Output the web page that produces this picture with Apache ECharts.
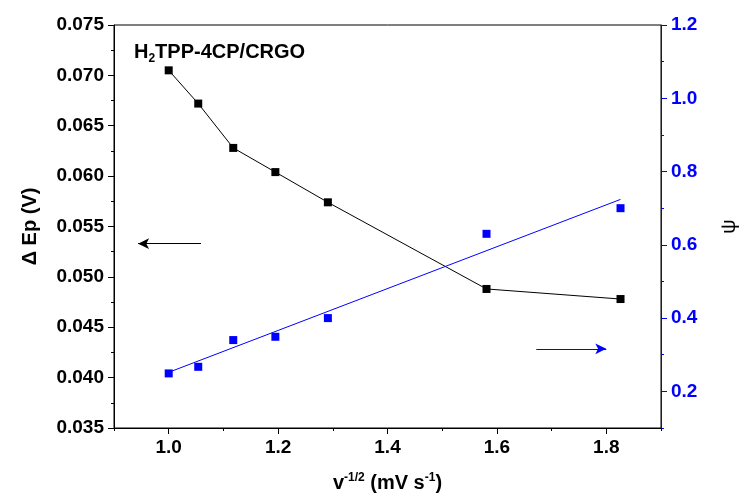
<!DOCTYPE html>
<html>
<head>
<meta charset="utf-8">
<script src="https://cdn.jsdelivr.net/npm/echarts@6/dist/echarts.min.js"></script>
<style>html,body{margin:0;padding:0;background:#fff}#c{width:739px;height:497px}</style>
</head>
<body>
<div id="c"></div>
<script>
// ---- data ----
const xValues = [1.0, 1.054, 1.118, 1.195, 1.291, 1.581, 1.826];
const deltaEp = [0.0705, 0.0672, 0.0628, 0.0604, 0.0574, 0.0488, 0.0478];
const psi = [0.249, 0.267, 0.340, 0.349, 0.400, 0.630, 0.700];
const psiFit = [[1.0, 0.252], [1.826, 0.724]];
const xTickMajor = [1.0, 1.2, 1.4, 1.6, 1.8];
const xTickMinor = [0.9, 1.1, 1.3, 1.5, 1.7, 1.9];
const rightTickMajor = [0.2, 0.4, 0.6, 0.8, 1.0, 1.2];
const rightTickMinor = [0.1, 0.3, 0.5, 0.7, 0.9, 1.1];
const leftArrow = [[1.059, 0.0533], [0.944, 0.0533]];
const rightArrow = [[1.672, 0.316], [1.800, 0.316]];

const FONT = '"Liberation Sans", Arial, sans-serif';
const BLUE = '#0000ff';
const chart = echarts.init(document.getElementById('c'));
const xBase = {type: 'value', min: 0.9, max: 1.9, splitLine: {show: false}};
chart.setOption({
  animation: false,
  title: {
    text: 'H{sub|2}TPP-4CP/CRGO',
    left: 129, top: 35,
    textStyle: {
      fontFamily: FONT, fontSize: 20, fontWeight: 'bold', color: '#000',
      rich: {sub: {fontFamily: FONT, fontSize: 12, fontWeight: 'bold', color: '#000', verticalAlign: 'bottom', padding: [13, 0, 0, 0]}}
    }
  },
  grid: {left: 114, right: 78, top: 25, bottom: 69, show: true, borderColor: '#000', borderWidth: 1,
    containLabel: false, outerBoundsMode: 'none'},
  xAxis: [
    Object.assign({}, xBase, {
      position: 'bottom',
      name: 'v{sup|-1/2} (mV s{sup|-1})',
      nameLocation: 'middle', nameGap: 44,
      nameTextStyle: {fontFamily: FONT, fontSize: 20, fontWeight: 'bold', color: '#000',
        rich: {sup: {fontFamily: FONT, fontSize: 12, fontWeight: 'bold', color: '#000', verticalAlign: 'top', padding: [0, 0, 11, 0]}}},
      axisLine: {show: true, lineStyle: {color: '#000', width: 1}},
      axisTick: {show: true, customValues: xTickMajor, length: 6, lineStyle: {color: '#000'}},
      axisLabel: {customValues: xTickMajor, margin: 10, fontFamily: FONT, fontSize: 19, fontWeight: 'bold', color: '#000',
        formatter: v => v.toFixed(1)}
    }),
    Object.assign({}, xBase, {
      position: 'bottom',
      axisLine: {show: false},
      axisTick: {show: true, customValues: xTickMinor, length: 3, lineStyle: {color: '#000'}},
      axisLabel: {show: false}
    })
  ],
  yAxis: [
    {
      type: 'value', position: 'left', min: 0.035, max: 0.075, interval: 0.005,
      name: 'Δ Ep (V)', nameLocation: 'middle', nameGap: 74,
      nameTextStyle: {fontFamily: FONT, fontSize: 20, fontWeight: 'bold', color: '#000'},
      splitLine: {show: false},
      axisLine: {show: true, lineStyle: {color: '#000', width: 1}},
      axisTick: {show: true, length: 6, lineStyle: {color: '#000'}},
      minorTick: {show: true, splitNumber: 2, length: 3, lineStyle: {color: '#000'}},
      axisLabel: {margin: 10, fontFamily: FONT, fontSize: 19, fontWeight: 'bold', color: '#000',
        formatter: v => v.toFixed(3)}
    },
    {
      type: 'value', position: 'right', min: 0.1, max: 1.2,
      name: 'ψ', nameLocation: 'middle', nameGap: 58, nameRotate: 90,
      nameTextStyle: {fontFamily: FONT, fontSize: 20, color: '#000'},
      splitLine: {show: false},
      axisLine: {show: true, lineStyle: {color: BLUE, width: 1}},
      axisTick: {show: true, customValues: rightTickMajor, length: 6, lineStyle: {color: BLUE}},
      axisLabel: {customValues: rightTickMajor, margin: 10, fontFamily: FONT, fontSize: 19, fontWeight: 'bold', color: BLUE,
        formatter: v => v.toFixed(1)}
    },
    {
      type: 'value', position: 'right', min: 0.1, max: 1.2,
      splitLine: {show: false},
      axisLine: {show: false},
      axisTick: {show: true, customValues: rightTickMinor, length: 3, lineStyle: {color: BLUE}},
      axisLabel: {show: false}
    }
  ],
  series: [
    {
      type: 'line', xAxisIndex: 0, yAxisIndex: 0,
      data: xValues.map((x, i) => [x, deltaEp[i]]),
      symbol: 'rect', symbolSize: 8,
      itemStyle: {color: '#000', opacity: 1},
      lineStyle: {color: '#000', width: 1},
      markLine: {
        silent: true, symbol: ['none', 'arrow'], symbolSize: [8, 11],
        label: {show: false},
        lineStyle: {color: '#000', width: 1, type: 'solid'},
        data: [[{coord: leftArrow[0]}, {coord: leftArrow[1]}]]
      }
    },
    {
      type: 'scatter', xAxisIndex: 0, yAxisIndex: 1,
      data: xValues.map((x, i) => [x, psi[i]]),
      symbol: 'rect', symbolSize: 8,
      itemStyle: {color: BLUE, opacity: 1}
    },
    {
      type: 'line', xAxisIndex: 0, yAxisIndex: 1,
      data: psiFit, symbol: 'none',
      lineStyle: {color: BLUE, width: 1},
      markLine: {
        silent: true, symbol: ['none', 'arrow'], symbolSize: [8, 11],
        label: {show: false},
        lineStyle: {color: BLUE, width: 1, type: 'solid'},
        data: [[{coord: rightArrow[0]}, {coord: rightArrow[1]}]]
      }
    }
  ]
});
</script>
</body>
</html>
